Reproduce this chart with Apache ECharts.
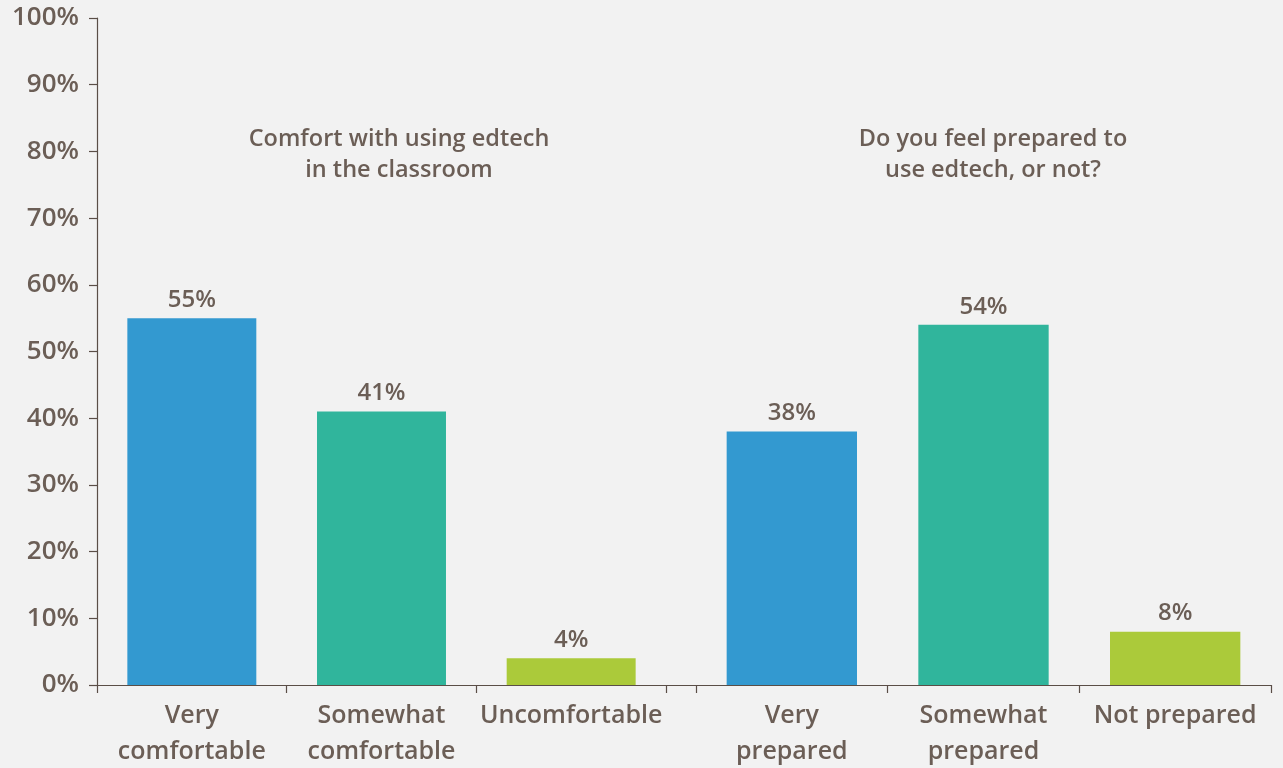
<!DOCTYPE html>
<html>
<head>
<meta charset="utf-8">
<script src="https://cdn.jsdelivr.net/npm/echarts@6/dist/echarts.min.js"></script>
<style>
  html, body { margin: 0; padding: 0; background: #f2f2f2; }
  #chart { width: 1283px; height: 768px; }
</style>
</head>
<body>
<div id="chart"></div>
<script>
// Survey answers, in percent
const comfortCategories = ['Very\ncomfortable', 'Somewhat\ncomfortable', 'Uncomfortable'];
const comfortValues = [55, 41, 4];
const preparedCategories = ['Very\nprepared', 'Somewhat\nprepared', 'Not prepared'];
const preparedValues = [38, 54, 8];
const barColors = ['#3399d0', '#30b59c', '#abca3a'];
const comfortTitle = 'Comfort with using edtech\nin the classroom';
const preparedTitle = 'Do you feel prepared to\nuse edtech, or not?';

const textColor = '#6b5e56';
const axisColor = '#5a4e47';
const font = 'Open Sans';

const chart = echarts.init(document.getElementById('chart'), null, { renderer: 'canvas' });

function barData(values) {
  return values.map((v, i) => ({ value: v, itemStyle: { color: barColors[i] } }));
}

const labelStyle = {
  show: true,
  position: 'top',
  distance: 6,
  formatter: '{c}%',
  color: textColor,
  fontFamily: font,
  fontWeight: 600,
  fontSize: 24
};

const catAxis = (idx, cats) => ({
  type: 'category',
  gridIndex: idx,
  data: cats,
  axisLine: { show: false },
  axisTick: { show: true, alignWithLabel: false, length: 8, lineStyle: { color: axisColor, width: 1.2 } },
  axisLabel: {
    color: textColor, fontFamily: font, fontWeight: 600, fontSize: 25,
    lineHeight: 36, margin: 13, interval: 0
  }
});

const titleText = { color: textColor, fontFamily: font, fontWeight: 600, fontSize: 23.5, lineHeight: 31 };

chart.setOption({
  backgroundColor: '#f2f2f2',
  animation: false,
  title: [
    { text: comfortTitle, left: 394, top: 119, textAlign: 'center', textStyle: titleText },
    { text: preparedTitle, left: 988, top: 119, textAlign: 'center', textStyle: titleText }
  ],
  grid: [
    { left: 97, right: 1283 - 666, top: 18, bottom: 768 - 685, outerBoundsMode: 'none' },
    { left: 696, right: 1283 - 1271, top: 18, bottom: 768 - 685, outerBoundsMode: 'none' },
    // full-width baseline under both panels
    { left: 97, right: 1283 - 1271, top: 18, bottom: 768 - 685, outerBoundsMode: 'none' }
  ],
  xAxis: [
    catAxis(0, comfortCategories),
    catAxis(1, preparedCategories),
    {
      type: 'value', gridIndex: 2, min: 0, max: 1,
      axisLine: { show: true, onZero: false, lineStyle: { color: axisColor, width: 1.2 } },
      axisTick: { show: false }, axisLabel: { show: false }, splitLine: { show: false }
    }
  ],
  yAxis: [
    {
      type: 'value', gridIndex: 0, min: 0, max: 100, interval: 10,
      axisLine: { show: true, lineStyle: { color: axisColor, width: 1.2 } },
      axisTick: { show: true, length: 8, lineStyle: { color: axisColor, width: 1.2 } },
      axisLabel: {
        formatter: '{value}%', color: textColor, fontFamily: font, fontWeight: 600,
        fontSize: 26, margin: 18
      },
      splitLine: { show: false }
    },
    {
      type: 'value', gridIndex: 1, min: 0, max: 100, interval: 10,
      axisLine: { show: false }, axisTick: { show: false }, axisLabel: { show: false },
      splitLine: { show: false }
    },
    {
      type: 'value', gridIndex: 2, min: 0, max: 100, show: false
    }
  ],
  series: [
    {
      type: 'bar', xAxisIndex: 0, yAxisIndex: 0, barWidth: '68%',
      data: barData(comfortValues), label: labelStyle
    },
    {
      type: 'bar', xAxisIndex: 1, yAxisIndex: 1, barWidth: '68%',
      data: barData(preparedValues), label: labelStyle
    }
  ]
});
</script>
</body>
</html>
